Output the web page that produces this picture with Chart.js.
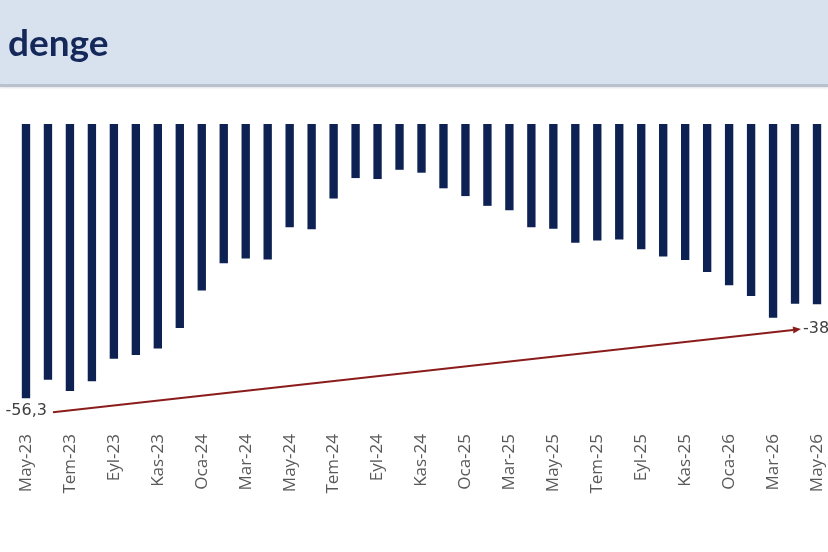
<!DOCTYPE html>
<html>
<head>
<meta charset="utf-8">
<script src="https://cdn.jsdelivr.net/npm/chart.js@4.4.1/dist/chart.umd.min.js"></script>
<style>
  html, body { margin: 0; padding: 0; background: #ffffff; }
  #wrap { position: relative; width: 828px; height: 552px; overflow: hidden; }
  #hdr {
    position: absolute; left: 0; top: 0; width: 828px; height: 84px;
    background: #d8e1ee;
    border-bottom: 3px solid #b9c1cc;
    box-shadow: 0 1px 2px rgba(0,0,0,0.12);
    z-index: 2;
  }
  #hdr span {
    position: absolute; left: 8px; top: 22px;
    font-family: Lato, "Open Sans", sans-serif; font-weight: 700; font-size: 37px;
    color: #15285a; line-height: 40px;
  }
  canvas { position: absolute; left: 0; top: 0; }
</style>
</head>
<body>
<div id="wrap">
  <div id="hdr"><span>denge</span></div>
  <canvas id="c" width="828" height="552"></canvas>
</div>
<script>
const months = ["May-23","Haz-23","Tem-23","Ağu-23","Eyl-23","Eki-23","Kas-23","Ara-23",
  "Oca-24","Şub-24","Mar-24","Nis-24","May-24","Haz-24","Tem-24","Ağu-24","Eyl-24","Eki-24","Kas-24","Ara-24",
  "Oca-25","Şub-25","Mar-25","Nis-25","May-25","Haz-25","Tem-25","Ağu-25","Eyl-25","Eki-25","Kas-25","Ara-25",
  "Oca-26","Şub-26","Mar-26","Nis-26","May-26"];
const balance = [-56.3,-52.5,-54.8,-52.8,-48.2,-47.4,-46.1,-41.9,
  -34.2,-28.6,-27.6,-27.8,-21.2,-21.6,-15.3,-11.1,-11.3,-9.4,-10.0,-13.2,
  -14.8,-16.8,-17.7,-21.2,-21.5,-24.4,-23.9,-23.7,-25.7,-27.2,-27.9,-30.4,
  -33.1,-35.3,-39.8,-36.9,-37.0];
const trendStart = -56.3;
const trendEnd = -38.0;
const yMin = -62;
const yMax = 0;

function fmt(v) { return v.toFixed(1).replace('.', ','); }

const trendPlugin = {
  id: 'trend',
  afterDatasetsDraw(chart) {
    const ctx = chart.ctx;
    const xs = chart.scales.x, ys = chart.scales.y;
    const sx = xs.getPixelForValue(0) + 27;
    const sy = ys.getPixelForValue(trendStart) + 14;
    const ex = xs.getPixelForValue(months.length - 1) - 16;
    const ey = ys.getPixelForValue(trendEnd) + 20;
    ctx.save();
    ctx.strokeStyle = '#8b1c1c';
    ctx.fillStyle = '#8b1c1c';
    ctx.lineWidth = 2;
    const ang = Math.atan2(ey - sy, ex - sx);
    const hl = 8;
    ctx.beginPath();
    ctx.moveTo(sx, sy);
    ctx.lineTo(ex - hl * Math.cos(ang), ey - hl * Math.sin(ang));
    ctx.stroke();
    ctx.beginPath();
    ctx.moveTo(ex, ey);
    ctx.lineTo(ex - hl * Math.cos(ang) + 3.5 * Math.sin(ang), ey - hl * Math.sin(ang) - 3.5 * Math.cos(ang));
    ctx.lineTo(ex - hl * Math.cos(ang) - 3.5 * Math.sin(ang), ey - hl * Math.sin(ang) + 3.5 * Math.cos(ang));
    ctx.closePath();
    ctx.fill();
    ctx.fillStyle = '#404040';
    ctx.font = '16px "DejaVu Sans", sans-serif';
    ctx.textBaseline = 'middle';
    ctx.textAlign = 'right';
    ctx.fillText(fmt(trendStart), sx - 6, sy - 1);
    ctx.textAlign = 'left';
    ctx.fillText(fmt(trendEnd), ex + 2, ey);
    ctx.restore();
  }
};

new Chart(document.getElementById('c'), {
  type: 'bar',
  data: {
    labels: months,
    datasets: [{
      data: balance,
      backgroundColor: '#0d2152',
      borderWidth: 0,
      barPercentage: 0.38,
      categoryPercentage: 1.0
    }]
  },
  options: {
    responsive: false,
    animation: false,
    devicePixelRatio: 1,
    layout: { padding: { left: 15, top: 124, right: 0, bottom: 0 } },
    plugins: { legend: { display: false }, tooltip: { enabled: false } },
    scales: {
      x: {
        position: 'bottom',
        grid: { display: false },
        border: { display: false },
        afterFit(scale) {
          scale.height = 126;
          scale.paddingLeft = 0;
          scale.paddingRight = 0;
        },
        ticks: {
          autoSkip: false,
          maxRotation: 90,
          minRotation: 90,
          padding: 0,
          color: '#595959',
          font: { family: '"Open Sans", sans-serif', size: 17 },
          callback(v, i) { return i % 2 === 0 ? months[i] : ''; }
        }
      },
      y: {
        display: false,
        min: yMin,
        max: yMax
      }
    }
  },
  plugins: [trendPlugin]
});
</script>
</body>
</html>
